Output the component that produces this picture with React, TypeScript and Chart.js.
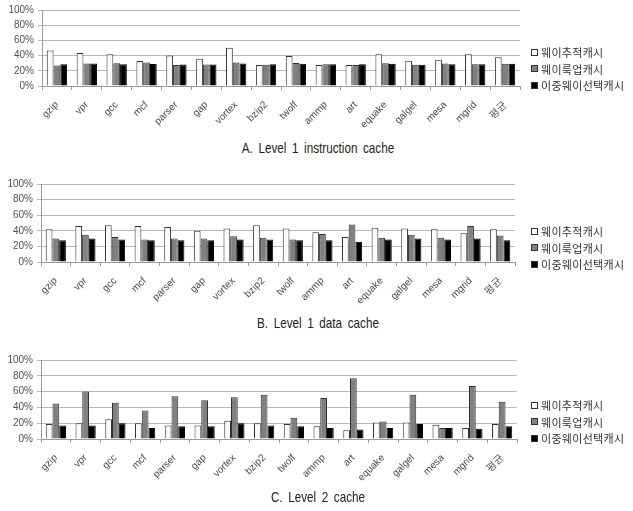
import React, { useEffect, useRef } from 'react';
import { Chart, registerables } from 'chart.js';

Chart.register(...registerables);

// Benchmarks on the x axis
const categories = ['gzip', 'vpr', 'gcc', 'mcf', 'parser', 'gap', 'vortex', 'bzip2', 'twolf', 'ammp', 'art', 'equake', 'galgel', 'mesa', 'mgrid', '평균'];

// Cache schemes
const seriesNames = ['웨이추적캐시', '웨이룩업캐시', '이중웨이선택캐시'];

// Y axis ticks (%)
const yTickValues = [0, 20, 40, 60, 80, 100];

// A. Level 1 instruction cache (%)
const l1iTrack = [46.7, 43.3, 41.7, 33, 40, 35.8, 50.4, 27.5, 39.6, 27.5, 27.5, 41.7, 33.3, 34.6, 41.7, 37.9];
const l1iLookup = [27, 29.6, 30, 30.8, 27.5, 28.3, 30.8, 27.9, 30.4, 28.7, 27.5, 30, 27.9, 29.6, 28.7, 29.2];
const l1iDual = [28.7, 29.6, 28.7, 29, 28.3, 28.3, 29.6, 28.7, 29.2, 28.7, 28.7, 29.2, 27.9, 28.7, 28.7, 29.2];

// B. Level 1 data cache (%)
const l1dTrack = [42, 46, 47, 46, 45, 40, 43, 47, 43, 38, 32, 44, 43, 42, 37, 42];
const l1dLookup = [30, 35, 32, 29, 30, 30, 33, 31, 29, 36, 48, 31, 35, 31, 46, 34];
const l1dDual = [28, 30, 29, 28, 28, 28, 29, 29, 28, 28, 26, 29, 30, 29, 30, 28];

// C. Level 2 cache (%)
const l2Track = [19, 20, 25, 20, 17, 17, 23, 20, 19, 16, 11, 21, 21, 18, 14, 19];
const l2Lookup = [45, 60, 46, 36, 54, 49, 53, 56, 27, 52, 77, 22, 56, 14, 67, 47];
const l2Dual = [17, 17, 20, 14, 16, 16, 20, 17, 16, 14, 12, 14, 19, 14, 13, 16];

// Panel captions
const captions = ['A. Level 1 instruction cache', 'B. Level 1 data cache', 'C. Level 2 cache'];

const seriesFill = ['#fbfbfb', '#808080', '#000000'];
const seriesBorder = ['#333333', '#303030', '#000000'];

const WIDTH = 633;

type Panel = {
  caption: string;
  values: number[][];
  top: number;
  height: number;
  plotTop: number;
  plotBottom: number;
  plotLeft: number;
  plotRight: number;
  legendTop: number;
  captionY: number;
};

const panels: Panel[] = [
  {
    caption: captions[0],
    values: [l1iTrack, l1iLookup, l1iDual],
    top: 0, height: 135, plotTop: 6, plotBottom: 86, plotLeft: 42, plotRight: 520,
    legendTop: 44, captionY: 148,
  },
  {
    caption: captions[1],
    values: [l1dTrack, l1dLookup, l1dDual],
    top: 170, height: 135, plotTop: 184, plotBottom: 262, plotLeft: 41, plotRight: 515,
    legendTop: 223, captionY: 323,
  },
  {
    caption: captions[2],
    values: [l2Track, l2Lookup, l2Dual],
    top: 345, height: 145, plotTop: 360, plotBottom: 439, plotLeft: 41, plotRight: 517,
    legendTop: 397, captionY: 497,
  },
];

const tickFont = { family: '"Liberation Sans", Arial, sans-serif', size: 10 };

function BarPanel({ panel }: { panel: Panel }) {
  const ref = useRef<HTMLCanvasElement | null>(null);

  useEffect(() => {
    if (!ref.current) return;
    const axisHeight = panel.height - (panel.plotBottom - panel.top);
    const chart = new Chart(ref.current, {
      type: 'bar',
      data: {
        labels: categories,
        datasets: seriesNames.map((name, i) => ({
          label: name,
          data: panel.values[i],
          backgroundColor: seriesFill[i],
          borderColor: seriesBorder[i],
          borderWidth: 1,
          categoryPercentage: 0.68,
          barPercentage: 1.0,
        })),
      },
      options: {
        responsive: false,
        animation: false,
        devicePixelRatio: 1,
        layout: {
          padding: { top: panel.plotTop - panel.top, right: WIDTH - panel.plotRight, left: 0, bottom: 0 },
        },
        plugins: {
          legend: { display: false },
          tooltip: { enabled: false },
          title: { display: false },
        },
        scales: {
          x: {
            grid: {
              display: true,
              drawOnChartArea: false,
              drawTicks: true,
              tickLength: 4,
              color: '#9a9a9a',
              offset: true,
            },
            border: { display: true, color: '#9a9a9a' },
            ticks: {
              font: tickFont,
              color: '#4a4a4a',
              minRotation: 45,
              maxRotation: 45,
              autoSkip: false,
              padding: 9,
            },
            afterFit: (scale: any) => {
              scale.height = axisHeight;
            },
          },
          y: {
            min: 0,
            max: 100,
            afterBuildTicks: (scale: any) => {
              scale.ticks = yTickValues.map((v) => ({ value: v }));
            },
            grid: {
              color: '#b8b8b8',
              lineWidth: 1,
              drawTicks: true,
              tickLength: 4,
            },
            border: { display: true, color: '#9a9a9a' },
            ticks: {
              font: tickFont,
              color: '#505050',
              padding: 4,
              callback: (v: any) => `${v}%`,
            },
            afterFit: (scale: any) => {
              scale.width = panel.plotLeft;
            },
          },
        },
      },
    });
    return () => chart.destroy();
  }, [panel]);

  return (
    <>
      <canvas
        ref={ref}
        width={WIDTH}
        height={panel.height}
        style={{ position: 'absolute', left: 0, top: panel.top, width: WIDTH, height: panel.height }}
      />
      <div style={{ position: 'absolute', left: 531, top: panel.legendTop }}>
        {seriesNames.map((name, i) => (
          <div key={name} style={{ display: 'flex', alignItems: 'center', height: 16.5 }}>
            <span
              style={{
                display: 'inline-block',
                width: 5,
                height: 5,
                border: '1px solid #333',
                background: seriesFill[i],
                marginRight: 3,
              }}
            />
            <span
              style={{
                fontFamily: '"Noto Sans CJK KR", sans-serif',
                fontSize: 11,
                color: '#333',
                lineHeight: '16px',
                letterSpacing: 0.3,
              }}
            >
              {name}
            </span>
          </div>
        ))}
      </div>
      <div
        style={{
          position: 'absolute',
          left: 0,
          width: 636,
          top: panel.captionY - 9,
          height: 18,
          lineHeight: '18px',
          textAlign: 'center',
          fontFamily: '"Liberation Sans", Arial, sans-serif',
          fontSize: 15,
          color: '#222',
          wordSpacing: 3,
          whiteSpace: 'nowrap',
          transform: 'scaleX(0.78)',
          transformOrigin: '318px 50%',
        }}
      >
        {panel.caption}
      </div>
    </>
  );
}

export default function App() {
  return (
    <div style={{ position: 'absolute', left: 0, top: 0, width: WIDTH, height: 511, background: '#ffffff', overflow: 'hidden' }}>
      {panels.map((p) => (
        <BarPanel key={p.caption} panel={p} />
      ))}
    </div>
  );
}
